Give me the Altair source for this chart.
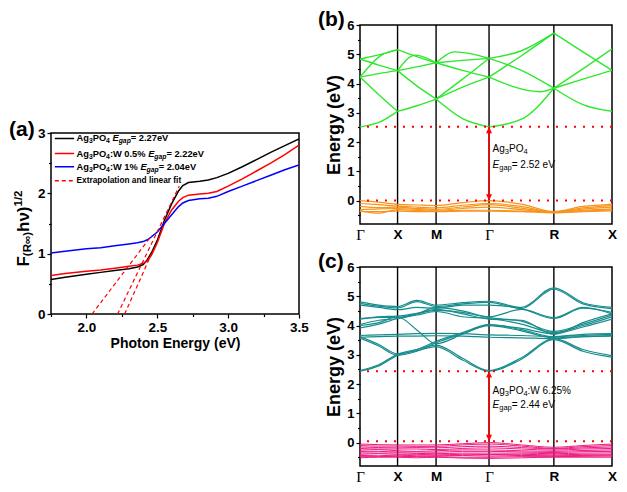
import altair as alt
import pandas as pd

FONT = "Liberation Sans"
SERIF = "Liberation Serif"

# ======================= panel (a): absorption spectra =======================
PHOTON_E = [1.75, 1.85, 2.0, 2.1, 2.2, 2.3, 2.36, 2.4, 2.43, 2.46, 2.5, 2.55, 2.6,
            2.65, 2.68, 2.72, 2.8, 2.86, 2.92, 3.0, 3.1, 3.2, 3.3, 3.4, 3.5]
KM_PURE = [0.57, 0.61, 0.66, 0.69, 0.72, 0.75, 0.78, 0.82, 0.90, 1.02, 1.22, 1.55, 1.82,
           2.04, 2.13, 2.18, 2.20, 2.22, 2.26, 2.33, 2.44, 2.56, 2.68, 2.79, 2.90]
KM_W05 = [0.64, 0.67, 0.71, 0.73, 0.76, 0.79, 0.81, 0.84, 0.88, 0.98, 1.18, 1.50, 1.72,
          1.87, 1.93, 1.97, 1.99, 2.00, 2.03, 2.12, 2.24, 2.37, 2.50, 2.64, 2.80]
KM_W1 = [1.01, 1.04, 1.08, 1.10, 1.13, 1.16, 1.18, 1.20, 1.23, 1.28, 1.36, 1.50, 1.64,
         1.78, 1.84, 1.88, 1.91, 1.92, 1.95, 2.03, 2.12, 2.21, 2.30, 2.39, 2.47]
SERIES = ["Ag3PO4", "Ag3PO4:W 0.5%", "Ag3PO4:W 1%"]
SERIES_COLORS = ["#000000", "#ff0000", "#0000ff"]

FIT_ID = ["W1", "W1", "W05", "W05", "pure", "pure"]
FIT_E = [2.04, 2.46, 2.22, 2.655, 2.27, 2.46]
FIT_F = [0.0, 1.30, 0.0, 2.12, 0.0, 1.0]

A_XDOM = [1.75, 3.5]
A_YDOM = [0, 3]
A_XTICKS = [2.0, 2.5, 3.0, 3.5]
A_XMINOR = [1.75, 2.25, 2.75, 3.25]
A_YTICKS = [0, 1, 2, 3]
A_YMINOR = [0.5, 1.5, 2.5]

LEG_ROW_Y = [2.91, 2.66, 2.44, 2.21]
LEG_LINE_X = [1.777, 1.913]
LEG_TEXT_X = 1.93
LEG_COLORS = ["#000000", "#ff0000", "#0000ff", "#ff0000"]
LEG_DASH = ["solid", "solid", "solid", "dash"]
LEG_LABELS = [
    [("Ag", "n"), ("3", "s"), ("PO", "n"), ("4", "s"), (" ", "n"), ("E", "i"), ("gap", "is"), (" = 2.27eV", "n")],
    [("Ag", "n"), ("3", "s"), ("PO", "n"), ("4", "s"), (":W 0.5% ", "n"), ("E", "i"), ("gap", "is"), (" = 2.22eV", "n")],
    [("Ag", "n"), ("3", "s"), ("PO", "n"), ("4", "s"), (":W 1% ", "n"), ("E", "i"), ("gap", "is"), (" = 2.04eV", "n")],
    [("Extrapolation and linear fit", "n")],
]
LEG_SIZE = [9.3, 9.3, 9.3, 8.3]
A_YTITLE = [("F", "n"), ("(R∞)", "s"), ("hν)", "n"), ("1/2", "p")]

# ======================= panels (b), (c): band structures =======================
KPTS = [0.0, 0.5, 1.013, 1.718, 2.581, 3.355]
KNAMES = ["Γ", "X", "M", "Γ", "R", "X"]
E_DOM = [-0.8, 6.0]
E_TICKS = [0, 1, 2, 3, 4, 5, 6]
E_MINOR = [-0.5, 0.5, 1.5, 2.5, 3.5, 4.5, 5.5]

# (b) conduction-band branches: segment, start E, mid fraction, mid E, end E
B_CB_SEG = [0, 0, 0, 0, 0, 0, 1, 1, 1, 1, 1, 2, 2, 2, 2, 2, 2, 3, 3, 3, 3, 3, 4, 4, 4, 4]
B_CB_START = [2.52, 4.22, 4.22, 4.84, 4.84, 4.22, 3.05, 4.44, 4.44, 5.16, 4.44,
              3.47, 3.47, 3.47, 4.71, 4.71, 4.71, 2.52, 4.22, 4.22, 4.86, 4.86,
              3.84, 3.84, 3.84, 5.72]
B_CB_FRAC = [0.5, 0.5, 0.5, 0.5, 0.5, 0.57, 0.5, 0.5, 0.5, 0.5, 0.46,
             0.5, 0.5, 0.5, 0.5, 0.36, 0.5, 0.5, 0.8, 0.5, 0.5, 0.5,
             0.5, 0.5, 0.5, 0.5]
B_CB_MID = [2.67, 3.62, 4.34, 4.63, 4.98, 4.97, 3.24, 3.92, 4.57, 4.92, 4.97,
            2.80, 3.88, 4.15, 4.79, 5.08, 4.45, 2.78, 3.72, 4.95, 5.12, 4.45,
            3.28, 4.15, 4.50, 5.08]
B_CB_END = [3.05, 3.05, 4.44, 4.44, 5.16, 5.16, 3.47, 3.47, 4.71, 4.71, 4.71,
            2.52, 4.22, 4.86, 4.86, 4.86, 4.22, 3.84, 3.84, 5.72, 5.72, 3.84,
            3.05, 4.45, 5.18, 4.45]

# (b) valence bands, values at Γ, ½, X, ½, M, ½, Γ, ½, R, ½, X
B_VB = [
    [0.00, -0.05, -0.13, -0.15, -0.17, -0.07, 0.00, -0.12, -0.38, -0.20, -0.13],
    [-0.10, -0.14, -0.19, -0.22, -0.25, -0.16, -0.10, -0.20, -0.40, -0.25, -0.17],
    [-0.20, -0.24, -0.22, -0.27, -0.30, -0.22, -0.14, -0.26, -0.40, -0.29, -0.22],
    [-0.31, -0.28, -0.27, -0.30, -0.33, -0.27, -0.22, -0.31, -0.41, -0.33, -0.28],
    [-0.35, -0.43, -0.31, -0.34, -0.36, -0.33, -0.33, -0.36, -0.39, -0.36, -0.32],
    [-0.37, -0.38, -0.36, -0.38, -0.38, -0.36, -0.36, -0.38, -0.42, -0.38, -0.35],
]
B_GAP = [0.0, 2.52]

# (c) conduction bands
C_CB = [
    [2.44, 2.62, 2.98, 3.14, 3.28, 2.82, 2.44, 2.85, 3.52, 3.12, 2.92],
    [2.46, 2.66, 3.02, 3.18, 3.33, 2.88, 2.46, 2.90, 3.55, 3.18, 2.97],
    [3.57, 3.30, 2.98, 3.12, 3.41, 3.72, 4.00, 3.82, 3.58, 3.62, 3.66],
    [3.62, 3.35, 3.03, 3.18, 3.46, 3.76, 4.03, 3.86, 3.62, 3.66, 3.70],
    [3.66, 3.68, 3.70, 3.72, 3.73, 3.72, 3.68, 3.66, 3.62, 3.70, 3.72],
    [3.60, 3.62, 3.64, 3.64, 3.65, 3.64, 3.60, 3.58, 3.55, 3.62, 3.64],
    [4.00, 4.10, 4.30, 3.85, 3.38, 3.70, 4.02, 3.90, 3.72, 3.95, 4.22],
    [3.92, 4.05, 4.24, 4.36, 4.48, 4.30, 4.24, 4.05, 3.76, 4.00, 4.30],
    [4.24, 4.30, 4.32, 4.42, 4.52, 4.45, 4.27, 4.15, 3.80, 4.05, 4.36],
    [4.22, 4.28, 4.28, 4.40, 4.55, 4.40, 4.22, 4.18, 3.70, 4.10, 4.40],
    [4.81, 4.70, 4.65, 4.86, 4.70, 4.78, 4.83, 4.62, 5.29, 4.78, 4.62],
    [4.76, 4.66, 4.60, 4.82, 4.65, 4.74, 4.79, 4.58, 5.24, 4.74, 4.58],
    [4.70, 4.62, 4.54, 4.62, 4.59, 4.70, 4.70, 4.58, 4.24, 4.59, 4.45],
    [4.03, 4.18, 4.24, 4.40, 4.62, 4.50, 4.30, 4.55, 4.27, 4.62, 4.40],
]
# (c) valence bands
C_VB = [
    [-0.05, -0.07, -0.08, -0.08, -0.08, -0.04, 0.00, -0.08, -0.16, -0.10, -0.05],
    [-0.10, -0.12, -0.12, -0.13, -0.13, -0.08, -0.05, -0.12, -0.20, -0.14, -0.10],
    [-0.15, -0.17, -0.18, -0.17, -0.18, -0.14, -0.12, -0.17, -0.22, -0.18, -0.15],
    [-0.20, -0.22, -0.22, -0.22, -0.24, -0.20, -0.18, -0.22, -0.26, -0.22, -0.20],
    [-0.26, -0.24, -0.28, -0.30, -0.28, -0.25, -0.25, -0.28, -0.30, -0.27, -0.25],
    [-0.30, -0.30, -0.32, -0.32, -0.33, -0.30, -0.30, -0.32, -0.34, -0.31, -0.30],
    [-0.35, -0.36, -0.35, -0.37, -0.38, -0.36, -0.36, -0.36, -0.38, -0.36, -0.35],
    [-0.40, -0.38, -0.40, -0.40, -0.42, -0.40, -0.41, -0.40, -0.42, -0.40, -0.40],
    [-0.44, -0.45, -0.43, -0.45, -0.45, -0.44, -0.46, -0.44, -0.45, -0.44, -0.43],
    [-0.48, -0.48, -0.47, -0.48, -0.48, -0.50, -0.50, -0.48, -0.48, -0.47, -0.46],
    [-0.52, -0.50, -0.50, -0.52, -0.50, -0.53, -0.54, -0.52, -0.50, -0.50, -0.50],
]
C_GAP = [0.05, 2.44]

B_ANN_X = 1.765
B_ANN_Y = [1.77, 1.20]
B_ANN = [[("Ag", "n"), ("3", "s"), ("PO", "n"), ("4", "s")],
         [("E", "i"), ("gap", "s"), (" = 2.52 eV", "n")]]
C_ANN_Y = [1.75, 1.30]
C_ANN = [[("Ag", "n"), ("3", "s"), ("PO", "n"), ("4", "s"), (":W 6.25%", "n")],
         [("E", "i"), ("gap", "s"), (" = 2.44 eV", "n")]]

GREEN, ORANGE, TEAL, PINK, RED = "#2ee82e", "#f7941d", "#178c8c", "#ec1c80", "#ff0000"

# ======================= layout sizes =======================
A_W, A_H = 248, 181
BC_W, BC_H = 252, 199
SPACER_H = 92

A_PPX = A_W / (A_XDOM[1] - A_XDOM[0])
A_PPY = A_H / (A_YDOM[1] - A_YDOM[0])
BC_PPX = BC_W / (KPTS[-1] - KPTS[0])
BC_PPY = BC_H / (E_DOM[1] - E_DOM[0])

BOLD_W = {' ': 278, '%': 889, '(': 333, ')': 333, '.': 278, '/': 278, ':': 333, '=': 584,
          'A': 722, 'E': 667, 'F': 611, 'O': 778, 'P': 667, 'R': 722, 'V': 667, 'W': 944,
          'a': 556, 'd': 611, 'e': 556, 'f': 333, 'g': 611, 'h': 611, 'i': 278, 'l': 278,
          'n': 611, 'o': 611, 'p': 611, 'r': 389, 't': 333, 'x': 556, 'y': 556, '∞': 713, 'ν': 556}
REG_W = {' ': 278, '%': 889, '.': 278, ':': 278, '=': 584, 'A': 667, 'E': 667, 'O': 778,
         'P': 667, 'V': 667, 'W': 944, 'a': 556, 'e': 556, 'g': 556, 'p': 556}


def text_width(txt, size, table):
    return sum(table.get(c, 556) for c in txt) * size / 1000.0


def rich_rows(segs, x0, y0, size, sub, table, ppx, ppy, shift_px):
    rows, off = [], 0.0
    for txt, kind in segs:
        small = kind in ("s", "is", "p")
        s = sub if small else size
        sh = shift_px if kind in ("s", "is") else 0.0
        rows.append({"t": txt, "x": x0 + off / ppx, "y": y0 - sh / ppy, "s": s,
                     "it": "i" in kind})
        off += text_width(txt, s, table)
    return rows


def text_layers(rows, xenc, yenc, weight):
    df = pd.DataFrame(rows)
    out = []
    for italic in (False, True):
        part = df[df["it"] == italic]
        if len(part) == 0:
            continue
        mk = dict(align="left", baseline="middle", fontWeight=weight, font=FONT, color="black")
        if italic:
            mk["fontStyle"] = "italic"
        out.append(alt.Chart(part).mark_text(**mk).encode(
            x=xenc, y=yenc, text="t:N", size=alt.Size("s:Q", scale=None)))
    return out


def panel_label(txt, dx, dy):
    return alt.Chart(pd.DataFrame({"t": [txt]})).mark_text(
        align="left", baseline="top", fontSize=21, fontWeight="bold", font=FONT
    ).encode(text="t:N", x=alt.value(dx), y=alt.value(dy))


# ======================= panel (a) =======================
ax_ax = alt.Axis(values=A_XTICKS, format=".1f", title="Photon Energy (eV)", titleFontSize=14,
                 titleFontWeight="bold", labelFontSize=13.5, labelFontWeight="bold", tickSize=4,
                 tickWidth=1.2, domain=False, labelPadding=2, titlePadding=3, labelFlush=False,
                 grid=False)
ax_ay = alt.Axis(values=A_YTICKS, format="d", title=None, labelFontSize=13.5,
                 labelFontWeight="bold", tickSize=4, tickWidth=1.2, domain=False,
                 labelPadding=2, grid=False)
sx_a = alt.Scale(domain=A_XDOM, nice=False, zero=False)
sy_a = alt.Scale(domain=A_YDOM, nice=False, zero=False)
xa = alt.X("x:Q", scale=sx_a, axis=ax_ax)
ya = alt.Y("y:Q", scale=sy_a, axis=ax_ay)

curve_rows = []
for name, vals in zip(SERIES, [KM_PURE, KM_W05, KM_W1]):
    for e, v in zip(PHOTON_E, vals):
        curve_rows.append({"s": name, "x": e, "y": v})
curves = alt.Chart(pd.DataFrame(curve_rows)).mark_line(strokeWidth=1.5, clip=True).encode(
    x=xa, y=ya, color=alt.Color("s:N", scale=alt.Scale(domain=SERIES, range=SERIES_COLORS),
                                legend=None))

fits = alt.Chart(pd.DataFrame({"id": FIT_ID, "x": FIT_E, "y": FIT_F})).mark_line(
    color=RED, strokeDash=[4, 3], strokeWidth=1.2, clip=True).encode(x=xa, y=ya, detail="id:N")

leg_df = pd.DataFrame({"x": [LEG_LINE_X[0]] * 4, "x2": [LEG_LINE_X[1]] * 4, "y": LEG_ROW_Y,
                       "c": LEG_COLORS, "d": LEG_DASH})
leg_lines = alt.Chart(leg_df).mark_rule(strokeWidth=1.5).encode(
    x=xa, x2="x2:Q", y=ya, color=alt.Color("c:N", scale=None),
    strokeDash=alt.StrokeDash("d:N", scale=alt.Scale(domain=["solid", "dash"],
                                                     range=[[1, 0], [4, 3]]), legend=None))

leg_rows = []
for segs, yy, sz in zip(LEG_LABELS, LEG_ROW_Y, LEG_SIZE):
    leg_rows += rich_rows(segs, LEG_TEXT_X, yy, sz, 6.8, BOLD_W, A_PPX, A_PPY, 3.0)
leg_text = text_layers(leg_rows, xa, ya, "bold")

# rotated y-axis title built from segments (pixel positions)
yt_rows, off = [], 0.0
for txt, kind in A_YTITLE:
    s = 17 if kind == "n" else 11.5
    sh = 4.0 if kind == "s" else (-5.5 if kind == "p" else 0.0)
    yt_rows.append({"t": txt, "off": off, "sh": sh, "s": s})
    off += text_width(txt, s, BOLD_W)
total = off
for r in yt_rows:
    r["px"] = -27 + r["sh"]
    r["py"] = A_H / 2 + 5 + total / 2 - r["off"]
ytitle = alt.Chart(pd.DataFrame(yt_rows)).mark_text(
    angle=270, align="left", baseline="middle", fontWeight="bold", font=FONT
).encode(x=alt.X("px:Q", scale=None), y=alt.Y("py:Q", scale=None), text="t:N",
         size=alt.Size("s:Q", scale=None))

minor_a = alt.Chart(pd.DataFrame({"x": [2.0], "y": [1.0]})).mark_point(opacity=0).encode(
    x=alt.X("x:Q", scale=sx_a, axis=alt.Axis(values=A_XMINOR, labels=False, tickSize=2.5,
                                             tickWidth=1.2, domain=False, title=None,
                                             orient="bottom", grid=False)),
    y=alt.Y("y:Q", scale=sy_a, axis=alt.Axis(values=A_YMINOR, labels=False, tickSize=2.5,
                                             tickWidth=1.2, domain=False, title=None,
                                             orient="left", grid=False)))

panel_a = alt.layer(
    alt.layer(curves, fits, leg_lines, *leg_text, ytitle, panel_label("(a)", -42, -14)),
    minor_a
).resolve_axis(x="independent", y="independent").properties(width=A_W, height=A_H)

spacer = alt.Chart(pd.DataFrame({"x": [0]})).mark_point(opacity=0).encode(
    x=alt.X("x:Q", axis=None), y=alt.Y("x:Q", axis=None)
).properties(width=A_W, height=SPACER_H, view=alt.ViewBackground(stroke="transparent"))

# ======================= panels (b), (c) =======================
KSAMP = []
for i in range(len(KPTS) - 1):
    KSAMP += [KPTS[i], (KPTS[i] + KPTS[i + 1]) / 2]
KSAMP.append(KPTS[-1])

label_expr = ""
for i in range(len(KPTS) - 1):
    label_expr += f"datum.value < {(KPTS[i] + KPTS[i + 1]) / 2:.4f} ? '{KNAMES[i]}' : "
label_expr += f"'{KNAMES[-1]}'"
gamma_test = " || ".join(f"abs(datum.value - {k}) < 0.01" for k, n in zip(KPTS, KNAMES) if n == "Γ")

sx_k = alt.Scale(domain=[KPTS[0], KPTS[-1]], nice=False, zero=False)
sy_e = alt.Scale(domain=E_DOM, nice=False, zero=False)
ax_k = alt.Axis(values=KPTS, labelExpr=label_expr, title=None, ticks=False, domain=False,
                labelFlush=False, labelPadding=3, grid=False,
                labelFont={"condition": {"test": gamma_test, "value": SERIF}, "value": FONT},
                labelFontWeight={"condition": {"test": gamma_test, "value": "normal"},
                                 "value": "bold"},
                labelFontSize={"condition": {"test": gamma_test, "value": 15}, "value": 13.5})
ax_e = alt.Axis(values=E_TICKS, format="d", title="Energy (eV)", titleFontSize=18,
                titleFontWeight="bold", labelFontSize=13, labelFontWeight="bold", tickSize=4,
                tickWidth=1.2, domain=False, labelPadding=2, titlePadding=3, grid=False)
xk = alt.X("x:Q", scale=sx_k, axis=ax_k)
ye = alt.Y("y:Q", scale=sy_e, axis=ax_e)

ARROW_UP = "M0,0L-0.75,1.6L0.75,1.6Z"
ARROW_DN = "M0,0L-0.75,-1.6L0.75,-1.6Z"


def band_df(bands, prefix):
    rows = []
    for i, b in enumerate(bands):
        for k, v in zip(KSAMP, b):
            rows.append({"id": f"{prefix}{i}", "x": k, "y": v})
    return pd.DataFrame(rows)


def band_panel(cb_df, vb_df, cb_color, vb_color, cb_w, vb_w, gap, ann_rows, label):
    sym = alt.Chart(pd.DataFrame({"x": KPTS[1:-1]})).mark_rule(
        color="black", strokeWidth=1.4).encode(x=xk)
    cb = alt.Chart(cb_df).mark_line(color=cb_color, strokeWidth=cb_w, interpolate="monotone",
                                   clip=True).encode(x=xk, y=ye, detail="id:N")
    vb = alt.Chart(vb_df).mark_line(color=vb_color, strokeWidth=vb_w, interpolate="monotone",
                                   clip=True).encode(x=xk, y=ye, detail="id:N")
    dots = alt.Chart(pd.DataFrame({"y": gap})).mark_rule(
        color=RED, strokeWidth=2, strokeDash=[2, 7]).encode(y=ye)
    arr = alt.Chart(pd.DataFrame({"x": [KPTS[3]], "y": [gap[0]], "y2": [gap[1]]})).mark_rule(
        color=RED, strokeWidth=1.5).encode(x=xk, y=ye, y2="y2:Q")
    heads = alt.Chart(pd.DataFrame({"x": [KPTS[3], KPTS[3]], "y": [gap[1], gap[0]],
                                    "sh": [ARROW_UP, ARROW_DN]})).mark_point(
        filled=True, color=RED, opacity=1, size=64, strokeWidth=0).encode(
        x=xk, y=ye, shape=alt.Shape("sh:N", scale=None))
    ann = text_layers(ann_rows, xk, ye, "normal")
    minor = alt.Chart(pd.DataFrame({"x": [1.0], "y": [1.0]})).mark_point(opacity=0).encode(
        x=alt.X("x:Q", scale=sx_k, axis=None),
        y=alt.Y("y:Q", scale=sy_e, axis=alt.Axis(values=E_MINOR, labels=False, tickSize=2.5,
                                                 tickWidth=1.2, domain=False, title=None,
                                                 orient="left", grid=False)))
    return alt.layer(
        alt.layer(sym, cb, vb, dots, arr, heads, *ann, panel_label(label, -42, -16)),
        minor
    ).resolve_axis(x="independent", y="independent").properties(width=BC_W, height=BC_H)


b_cb_rows = []
for i in range(len(B_CB_SEG)):
    s = B_CB_SEG[i]
    k0, k1 = KPTS[s], KPTS[s + 1]
    pts = [(k0, B_CB_START[i]), (k0 + B_CB_FRAC[i] * (k1 - k0), B_CB_MID[i]), (k1, B_CB_END[i])]
    for k, v in pts:
        b_cb_rows.append({"id": f"g{i}", "x": k, "y": v})
b_cb_df = pd.DataFrame(b_cb_rows)

b_ann = []
for segs, yy in zip(B_ANN, B_ANN_Y):
    b_ann += rich_rows(segs, B_ANN_X, yy, 10, 7.5, REG_W, BC_PPX, BC_PPY, 3.0)
c_ann = []
for segs, yy in zip(C_ANN, C_ANN_Y):
    c_ann += rich_rows(segs, B_ANN_X, yy, 10, 7.5, REG_W, BC_PPX, BC_PPY, 3.0)

panel_b = band_panel(b_cb_df, band_df(B_VB, "v"), GREEN, ORANGE, 1.4, 1.2, B_GAP, b_ann, "(b)")
panel_c = band_panel(band_df(C_CB, "c"), band_df(C_VB, "p"), TEAL, PINK, 1.2, 1.0, C_GAP,
                     c_ann, "(c)")

left = alt.vconcat(spacer, panel_a, spacing=0)
right = alt.vconcat(panel_b, panel_c, spacing=7)

chart = alt.hconcat(left, right, spacing=7).properties(padding=0).configure_view(
    stroke="black", strokeWidth=1.5
).configure_axis(
    grid=False, labelFont=FONT, titleFont=FONT, labelColor="black", titleColor="black",
    tickColor="black"
).configure_text(font=FONT)

chart.save("out.html", embed_options={"renderer": "svg", "actions": False})
